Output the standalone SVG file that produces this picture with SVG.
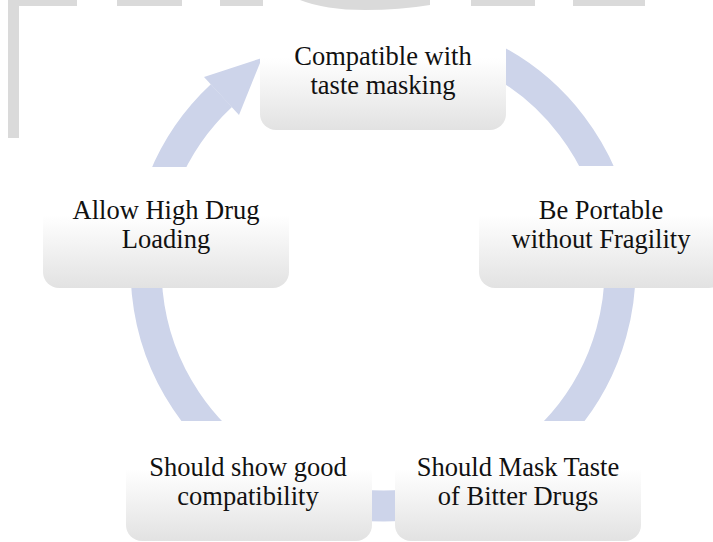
<svg xmlns="http://www.w3.org/2000/svg" width="713" height="542" viewBox="0 0 713 542">
<defs>
<linearGradient id="nodeGrad" x1="0" y1="0" x2="0" y2="1">
<stop offset="0" stop-color="#FFFFFF"/>
<stop offset="0.4" stop-color="#FFFFFF"/>
<stop offset="1" stop-color="#E2E2E2"/>
</linearGradient>
<style>
.wm{fill:#DADADA;}
.ring{fill:none;stroke:#CDD4EA;stroke-width:31;}
.head{fill:#CDD4EA;}
.box{fill:url(#nodeGrad);}
.lbl{font-family:"Liberation Serif","Times New Roman",serif;font-size:26.5px;fill:#111;text-anchor:middle;}
</style>
</defs>
<rect width="713" height="542" fill="#FFFFFF"/>
<g id="watermark">
<rect class="wm" x="8" y="0" width="11" height="138"/>
<rect class="wm" x="8" y="0" width="69" height="6"/>
<rect class="wm" x="117" y="0" width="65" height="6"/>
<rect class="wm" x="220" y="0" width="43" height="6"/>
<path class="wm" d="M300,0 L430,0 L430,5 Q400,10 365,10 Q325,10 300,0 Z"/>
<rect class="wm" x="471" y="0" width="64" height="6"/>
<rect class="wm" x="573" y="0" width="72" height="6"/>
</g>
<g id="connectors">
<path class="ring" d="M383,32 A237,237 0 1 1 221.4,95.7"/>
<polygon class="head" points="204,77 239,115 262,58"/>
</g>
<g id="node-top">
<rect class="box" x="260" y="10" width="246" height="120" rx="16"/>
<text class="lbl" x="383" y="65">Compatible with</text>
<text class="lbl" x="383" y="94">taste masking</text>
</g>
<g id="node-right">
<rect class="box" x="479" y="166" width="246" height="122" rx="16"/>
<text class="lbl" x="601" y="219">Be Portable</text>
<text class="lbl" x="601" y="248">without Fragility</text>
</g>
<g id="node-bottom-right">
<rect class="box" x="395" y="421" width="246" height="120" rx="16"/>
<text class="lbl" x="518" y="476">Should Mask Taste</text>
<text class="lbl" x="518" y="505">of Bitter Drugs</text>
</g>
<g id="node-bottom-left">
<rect class="box" x="126" y="421" width="246" height="120" rx="16"/>
<text class="lbl" x="248" y="476">Should show good</text>
<text class="lbl" x="248" y="505">compatibility</text>
</g>
<g id="node-left">
<rect class="box" x="43" y="167" width="246" height="121" rx="16"/>
<text class="lbl" x="166" y="219">Allow High Drug</text>
<text class="lbl" x="166" y="248">Loading</text>
</g>
</svg>
